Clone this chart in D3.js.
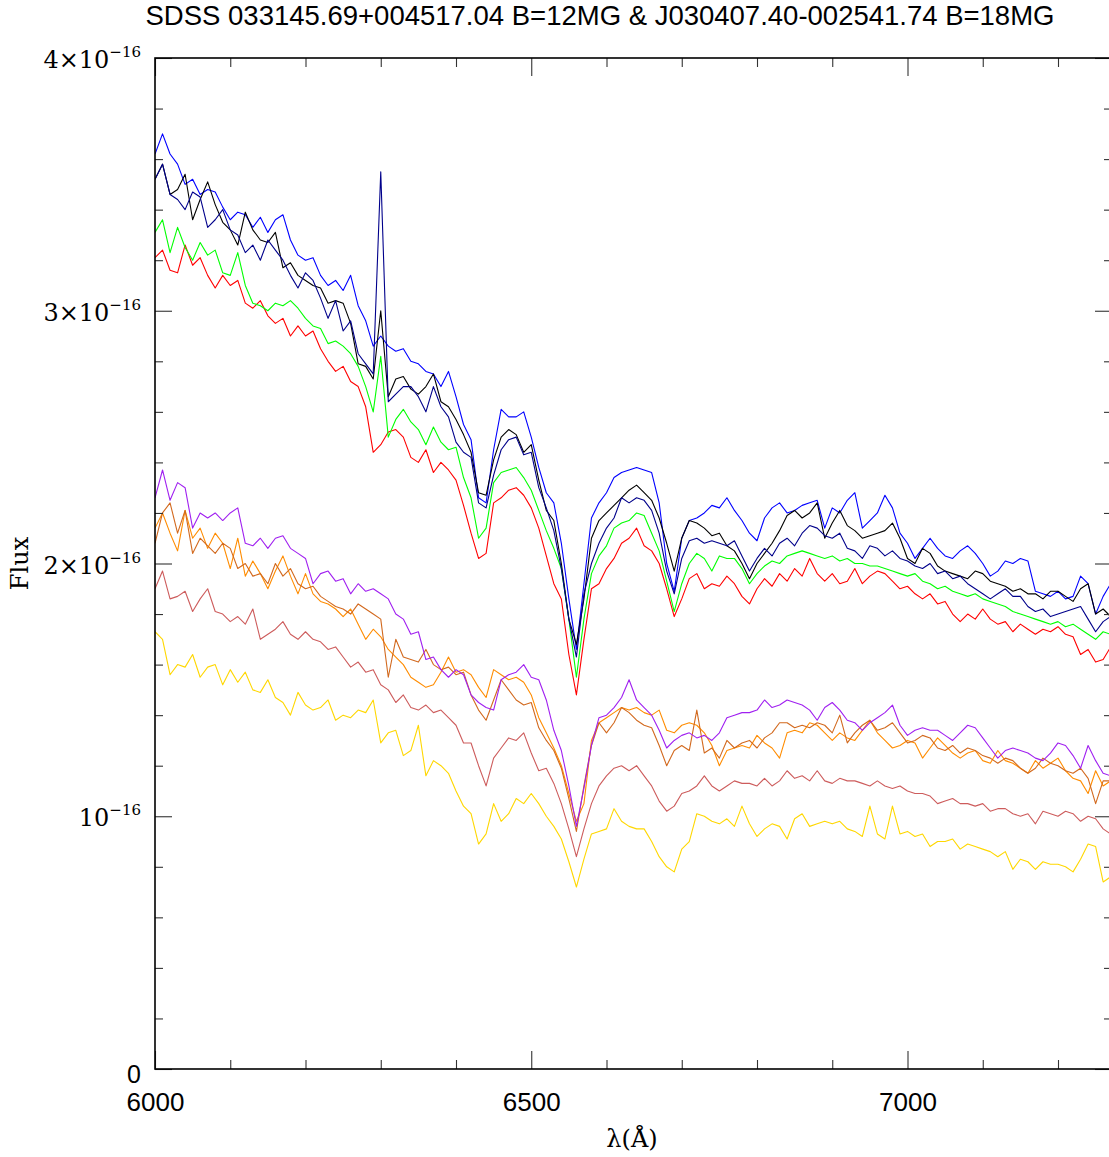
<!DOCTYPE html>
<html>
<head>
<meta charset="utf-8">
<script src="https://cdn.jsdelivr.net/npm/d3@7"></script>
<style>
  body { margin: 0; background: #fff; }
  svg { display: block; }
</style>
</head>
<body>
<div id="chart"></div>
<script>

// wavelength grid, 10 A steps from 6000 to 7270
var wavelengths = d3.range(6000, 7271, 10);

// fluxes in units of 1e-16
var fluxRed = [
  3.21,3.24,3.16,3.15,3.26,3.18,3.21,3.14,3.09,3.14,
  3.10,3.12,3.03,3.01,3.04,2.98,2.95,2.97,2.90,2.94,
  2.90,2.92,2.85,2.80,2.76,2.78,2.72,2.70,2.62,2.44,
  2.47,2.52,2.53,2.50,2.42,2.40,2.45,2.36,2.40,2.37,
  2.33,2.23,2.12,2.02,2.04,2.24,2.26,2.29,2.30,2.27,
  2.22,2.14,2.03,1.92,1.86,1.64,1.48,1.70,1.90,1.92,
  1.98,2.02,2.08,2.10,2.14,2.07,2.05,2.00,1.90,1.79,
  1.86,1.94,1.96,1.90,1.92,1.91,1.95,1.92,1.87,1.84,
  1.90,1.94,1.91,1.96,1.93,1.98,1.95,2.02,1.96,1.93,
  1.96,1.92,1.93,1.98,1.92,1.95,1.97,1.96,1.93,1.90,
  1.91,1.88,1.86,1.88,1.84,1.85,1.80,1.77,1.80,1.78,
  1.82,1.78,1.76,1.77,1.73,1.76,1.74,1.72,1.74,1.73,
  1.75,1.72,1.71,1.64,1.66,1.61,1.62,1.67
];

var fluxGreen = [
  3.31,3.36,3.23,3.33,3.25,3.20,3.27,3.22,3.24,3.15,
  3.14,3.23,3.10,3.03,3.02,3.00,3.03,3.02,3.04,3.01,
  2.97,2.94,2.93,2.87,2.88,2.86,2.83,2.78,2.70,2.60,
  2.82,2.50,2.57,2.61,2.56,2.53,2.47,2.54,2.48,2.45,
  2.46,2.34,2.26,2.10,2.14,2.32,2.36,2.37,2.38,2.34,
  2.29,2.21,2.13,2.06,1.98,1.78,1.55,1.78,1.96,2.03,
  2.07,2.14,2.16,2.17,2.20,2.19,2.12,2.05,1.93,1.81,
  1.92,2.00,2.04,2.02,1.97,2.03,2.02,2.02,1.98,1.92,
  1.96,1.99,2.01,2.00,2.03,2.04,2.05,2.04,2.03,2.02,
  2.03,2.01,2.02,2.00,2.00,1.99,1.99,1.98,1.97,1.96,
  1.95,1.96,1.93,1.92,1.90,1.91,1.89,1.88,1.87,1.88,
  1.86,1.85,1.84,1.83,1.81,1.80,1.79,1.78,1.77,1.76,
  1.77,1.75,1.76,1.74,1.72,1.70,1.73,1.72
];

var fluxBlue = [
  3.62,3.70,3.62,3.58,3.50,3.52,3.46,3.48,3.47,3.41,
  3.36,3.39,3.38,3.33,3.37,3.31,3.36,3.38,3.28,3.22,
  3.20,3.21,3.14,3.10,3.12,3.08,3.14,3.02,2.96,2.86,
  2.90,2.86,2.84,2.85,2.80,2.79,2.76,2.75,2.70,2.76,
  2.66,2.55,2.49,2.26,2.24,2.45,2.61,2.58,2.58,2.60,
  2.50,2.38,2.28,2.24,2.08,1.86,1.66,1.92,2.18,2.24,
  2.28,2.34,2.36,2.37,2.38,2.37,2.36,2.24,2.00,1.89,
  2.10,2.17,2.18,2.20,2.23,2.22,2.26,2.21,2.17,2.12,
  2.09,2.18,2.22,2.24,2.20,2.21,2.23,2.24,2.25,2.14,
  2.22,2.20,2.25,2.28,2.14,2.17,2.20,2.27,2.22,2.12,
  2.08,2.02,2.06,2.10,2.06,2.03,2.02,2.05,2.07,2.04,
  2.00,1.95,1.97,2.01,2.00,2.02,2.01,1.89,1.88,1.87,
  1.89,1.86,1.87,1.95,1.92,1.80,1.87,1.92
];

var fluxBlack = [
  3.52,3.58,3.46,3.48,3.54,3.36,3.44,3.51,3.42,3.35,
  3.32,3.26,3.39,3.32,3.28,3.27,3.31,3.17,3.19,3.14,
  3.12,3.10,3.09,3.03,3.04,3.03,2.95,2.79,2.78,2.73,
  3.00,2.66,2.73,2.74,2.69,2.67,2.70,2.75,2.64,2.62,
  2.57,2.51,2.44,2.28,2.27,2.41,2.50,2.53,2.51,2.44,
  2.47,2.33,2.21,2.17,2.00,1.78,1.68,1.86,2.10,2.17,
  2.20,2.23,2.26,2.29,2.31,2.28,2.25,2.18,2.08,1.97,
  2.10,2.17,2.16,2.14,2.11,2.12,2.07,2.05,2.00,1.94,
  2.00,2.04,2.08,2.13,2.19,2.21,2.18,2.20,2.24,2.10,
  2.16,2.21,2.15,2.13,2.10,2.11,2.12,2.13,2.16,2.10,
  2.02,2.00,2.06,2.04,1.99,1.97,1.96,1.95,1.94,1.97,
  1.96,1.93,1.92,1.91,1.89,1.90,1.88,1.88,1.86,1.89,
  1.89,1.87,1.85,1.90,1.92,1.80,1.82,1.79
];

var fluxNavy = [
  3.52,3.58,3.46,3.44,3.40,3.47,3.45,3.33,3.36,3.40,
  3.32,3.30,3.23,3.26,3.20,3.28,3.24,3.20,3.14,3.09,
  3.15,3.12,3.05,2.97,3.04,2.92,2.96,2.83,2.79,2.75,
  3.55,2.64,2.67,2.70,2.70,2.66,2.60,2.70,2.62,2.58,
  2.48,2.44,2.42,2.24,2.22,2.35,2.45,2.49,2.50,2.43,
  2.44,2.30,2.22,2.13,1.98,1.78,1.63,1.88,2.00,2.08,
  2.14,2.18,2.26,2.24,2.26,2.25,2.21,2.12,1.97,1.88,
  2.02,2.09,2.10,2.08,2.09,2.08,2.07,2.09,2.03,1.97,
  2.02,2.06,2.03,2.08,2.10,2.07,2.12,2.15,2.14,2.11,
  2.10,2.12,2.06,2.05,2.02,2.07,2.06,2.03,2.05,2.02,
  2.01,1.99,1.98,2.00,1.96,1.97,1.94,1.95,1.92,1.90,
  1.88,1.86,1.88,1.90,1.87,1.87,1.83,1.81,1.82,1.79,
  1.80,1.81,1.82,1.83,1.78,1.73,1.77,1.79
];

var fluxPurple = [
  2.26,2.37,2.25,2.32,2.30,2.14,2.20,2.18,2.20,2.17,
  2.20,2.22,2.08,2.07,2.10,2.06,2.10,2.11,2.06,2.04,
  2.02,1.92,1.96,1.97,1.93,1.94,1.88,1.92,1.89,1.90,
  1.88,1.86,1.80,1.78,1.72,1.73,1.62,1.63,1.58,1.55,
  1.58,1.56,1.48,1.45,1.43,1.42,1.54,1.56,1.57,1.60,
  1.55,1.54,1.46,1.34,1.26,1.12,0.96,1.11,1.28,1.39,
  1.40,1.43,1.47,1.54,1.46,1.43,1.40,1.34,1.27,1.30,
  1.32,1.33,1.31,1.32,1.30,1.33,1.39,1.40,1.41,1.41,
  1.42,1.46,1.43,1.44,1.46,1.45,1.44,1.42,1.38,1.43,
  1.45,1.42,1.38,1.37,1.34,1.37,1.39,1.41,1.44,1.36,
  1.32,1.34,1.35,1.34,1.34,1.32,1.30,1.33,1.36,1.35,
  1.31,1.27,1.23,1.26,1.27,1.26,1.25,1.23,1.22,1.25,
  1.29,1.28,1.24,1.19,1.28,1.22,1.17,1.16
];

var fluxOrange = [
  2.14,2.20,2.12,2.05,2.21,2.10,2.14,2.06,2.12,2.08,
  1.98,2.10,1.95,2.01,1.96,1.90,1.97,2.03,1.95,1.88,
  1.96,1.88,1.85,1.84,1.82,1.79,1.82,1.76,1.70,1.74,
  1.71,1.66,1.63,1.60,1.55,1.53,1.51,1.52,1.57,1.63,
  1.57,1.58,1.56,1.51,1.47,1.58,1.56,1.54,1.55,1.53,
  1.48,1.39,1.33,1.27,1.20,1.09,0.98,1.05,1.30,1.37,
  1.39,1.41,1.43,1.42,1.43,1.41,1.40,1.42,1.34,1.33,
  1.36,1.37,1.36,1.33,1.28,1.20,1.26,1.27,1.28,1.27,
  1.32,1.29,1.27,1.23,1.33,1.34,1.33,1.37,1.36,1.33,
  1.30,1.33,1.31,1.30,1.34,1.38,1.33,1.30,1.27,1.28,
  1.30,1.29,1.23,1.27,1.31,1.28,1.25,1.23,1.25,1.26,
  1.22,1.21,1.26,1.22,1.21,1.19,1.17,1.22,1.19,1.21,
  1.23,1.18,1.15,1.14,1.09,1.18,1.12,1.14
];

var fluxChocolate = [
  2.08,2.20,2.24,2.12,2.21,2.04,2.10,2.07,2.04,2.08,
  2.06,1.98,2.00,1.95,1.96,1.92,2.00,1.95,1.98,1.92,
  1.90,1.91,1.87,1.85,1.83,1.82,1.80,1.84,1.82,1.80,
  1.78,1.55,1.70,1.63,1.62,1.61,1.66,1.60,1.58,1.59,
  1.56,1.57,1.48,1.42,1.38,1.46,1.54,1.50,1.46,1.44,
  1.45,1.35,1.30,1.26,1.19,1.07,0.94,1.12,1.28,1.37,
  1.33,1.37,1.43,1.41,1.38,1.36,1.35,1.28,1.20,1.26,
  1.28,1.26,1.42,1.25,1.27,1.23,1.30,1.27,1.29,1.30,
  1.27,1.31,1.33,1.37,1.37,1.35,1.36,1.35,1.37,1.36,
  1.33,1.40,1.29,1.33,1.36,1.38,1.34,1.35,1.37,1.33,
  1.29,1.30,1.32,1.31,1.27,1.26,1.28,1.25,1.27,1.26,
  1.24,1.23,1.21,1.23,1.22,1.19,1.17,1.19,1.23,1.21,
  1.20,1.18,1.17,1.19,1.15,1.05,1.14,1.14
];

var fluxIndianRed = [
  1.90,1.97,1.86,1.87,1.89,1.81,1.86,1.90,1.81,1.80,
  1.77,1.79,1.76,1.82,1.70,1.72,1.74,1.77,1.72,1.70,
  1.73,1.70,1.69,1.66,1.67,1.63,1.59,1.61,1.57,1.58,
  1.52,1.50,1.45,1.48,1.43,1.42,1.44,1.41,1.42,1.39,
  1.36,1.29,1.29,1.20,1.12,1.23,1.27,1.31,1.30,1.33,
  1.25,1.18,1.19,1.13,1.05,0.95,0.84,0.95,1.05,1.12,
  1.16,1.19,1.20,1.18,1.20,1.16,1.12,1.06,1.02,1.04,
  1.09,1.10,1.12,1.16,1.12,1.10,1.12,1.14,1.13,1.13,
  1.12,1.15,1.12,1.14,1.18,1.15,1.16,1.14,1.18,1.14,
  1.13,1.15,1.14,1.14,1.13,1.12,1.14,1.12,1.11,1.12,
  1.10,1.09,1.09,1.08,1.05,1.06,1.07,1.05,1.05,1.04,
  1.05,1.02,1.03,1.03,1.01,1.00,1.01,0.97,1.02,1.01,
  1.00,1.02,1.01,0.98,1.00,0.99,0.95,0.93
];

var fluxGold = [
  1.73,1.70,1.56,1.60,1.59,1.64,1.55,1.59,1.60,1.52,
  1.58,1.53,1.57,1.50,1.49,1.54,1.47,1.45,1.40,1.49,
  1.44,1.42,1.43,1.46,1.38,1.40,1.39,1.42,1.41,1.46,
  1.29,1.33,1.34,1.24,1.26,1.36,1.16,1.22,1.20,1.17,
  1.10,1.04,1.01,0.89,0.93,1.05,0.98,1.01,1.07,1.05,
  1.09,1.05,1.00,0.96,0.91,0.82,0.72,0.83,0.93,0.94,
  0.95,1.03,0.98,0.96,0.95,0.95,0.90,0.84,0.80,0.78,
  0.87,0.90,1.01,1.00,0.98,0.97,0.99,0.96,1.04,0.97,
  0.92,0.95,0.97,0.96,0.91,0.99,1.01,0.96,0.97,0.98,
  0.97,0.98,0.95,0.94,0.92,1.04,0.93,0.91,1.04,0.93,
  0.94,0.92,0.93,0.88,0.90,0.90,0.91,0.87,0.89,0.88,
  0.87,0.86,0.84,0.86,0.79,0.83,0.82,0.79,0.82,0.81,
  0.81,0.80,0.78,0.83,0.89,0.88,0.74,0.76
];

var seriesList = [
  { name: "gold", color: "#ffd700", values: fluxGold },
  { name: "indianred", color: "#cd5c5c", values: fluxIndianRed },
  { name: "darkorange", color: "#ff8c00", values: fluxOrange },
  { name: "chocolate", color: "#d2691e", values: fluxChocolate },
  { name: "purple", color: "#a020f0", values: fluxPurple },
  { name: "red", color: "#ff0000", values: fluxRed },
  { name: "green", color: "#00ff00", values: fluxGreen },
  { name: "blue", color: "#0000ff", values: fluxBlue },
  { name: "black", color: "#000000", values: fluxBlack },
  { name: "navy", color: "#00008b", values: fluxNavy }
];

var titleText = "SDSS 033145.69+004517.04 B=12MG & J030407.40-002541.74 B=18MG";
var xMajorTicks = [6000, 6500, 7000];
var xMinorTicks = [6100, 6200, 6300, 6400, 6600, 6700, 6800, 6900, 7100, 7200];
var yMajorTicks = [0, 1, 2, 3, 4];
var yMinorTicks = [0.2, 0.4, 0.6, 0.8, 1.2, 1.4, 1.6, 1.8, 2.2, 2.4, 2.6, 2.8, 3.2, 3.4, 3.6, 3.8];
var yTickLabels = [
  { v: 4, base: "4\u00d710", exp: "\u221216" },
  { v: 3, base: "3\u00d710", exp: "\u221216" },
  { v: 2, base: "2\u00d710", exp: "\u221216" },
  { v: 1, base: "10", exp: "\u221216" }
];

var svgWidth = 1109;
var svgHeight = 1157;
var plot = { left: 155, right: 1112, top: 58, bottom: 1069 };

var svg = d3.select("#chart")
  .append("svg")
  .attr("width", svgWidth)
  .attr("height", svgHeight)
  .style("background", "#fff");

// scales: 6000 -> 155px, 7000 -> 907.5px
var xScale = d3.scaleLinear()
  .domain([6000, 7000])
  .range([155, 907.5]);
xScale.domain([6000, xScale.invert(plot.right)]).range([plot.left, plot.right]);

var yScale = d3.scaleLinear()
  .domain([0, 4])
  .range([plot.bottom, plot.top]);

svg.append("clipPath")
  .attr("id", "plotClip")
  .append("rect")
  .attr("x", plot.left)
  .attr("y", plot.top)
  .attr("width", plot.right - plot.left)
  .attr("height", plot.bottom - plot.top);

// spectra
var line = d3.line()
  .x(function(d, i) { return xScale(wavelengths[i]); })
  .y(function(d) { return yScale(d); });

svg.append("g")
  .attr("clip-path", "url(#plotClip)")
  .selectAll("path")
  .data(seriesList)
  .enter()
  .append("path")
  .attr("d", function(s) { return line(s.values); })
  .attr("fill", "none")
  .attr("stroke", function(s) { return s.color; })
  .attr("stroke-width", 1.1)
  .attr("stroke-linejoin", "round");

// ticks (inward) on all four sides
function tickGroup(axis, tx, ty) {
  var g = svg.append("g")
    .attr("transform", "translate(" + tx + "," + ty + ")")
    .call(axis);
  g.select(".domain").remove();
  g.selectAll(".tick line").attr("stroke", "#333").attr("stroke-width", 1.1);
  return g;
}

tickGroup(d3.axisBottom(xScale).tickValues(xMinorTicks).tickSize(-9).tickFormat(""), 0, plot.bottom);
tickGroup(d3.axisTop(xScale).tickValues(xMinorTicks).tickSize(-9).tickFormat(""), 0, plot.top);
tickGroup(d3.axisTop(xScale).tickValues(xMajorTicks).tickSize(-18).tickFormat(""), 0, plot.top);

var xLabels = tickGroup(
  d3.axisBottom(xScale).tickValues(xMajorTicks).tickSize(-18).tickPadding(24).tickFormat(d3.format("d")),
  0, plot.bottom);
xLabels.selectAll(".tick text")
  .attr("font-family", "'Liberation Sans', Arial, sans-serif")
  .attr("font-size", "26px")
  .attr("fill", "#000");

tickGroup(d3.axisLeft(yScale).tickValues(yMinorTicks).tickSize(-8).tickFormat(""), plot.left, 0);
tickGroup(d3.axisLeft(yScale).tickValues(yMajorTicks).tickSize(-17).tickFormat(""), plot.left, 0);
tickGroup(d3.axisRight(yScale).tickValues(yMinorTicks).tickSize(-8).tickFormat(""), plot.right, 0);
tickGroup(d3.axisRight(yScale).tickValues(yMajorTicks).tickSize(-17).tickFormat(""), plot.right, 0);

// frame
svg.append("rect")
  .attr("x", plot.left)
  .attr("y", plot.top)
  .attr("width", plot.right - plot.left)
  .attr("height", plot.bottom - plot.top)
  .attr("fill", "none")
  .attr("stroke", "#000")
  .attr("stroke-width", 1.6);

// y tick labels with superscript exponent
var yLab = svg.append("g")
  .selectAll("text")
  .data(yTickLabels)
  .enter()
  .append("text")
  .attr("x", 141)
  .attr("y", function(d) { return yScale(d.v) + 10; })
  .attr("text-anchor", "end")
  .attr("font-family", "'DejaVu Serif', serif")
  .attr("font-size", "24px")
  .attr("fill", "#000");
yLab.append("tspan").text(function(d) { return d.base; });
yLab.append("tspan")
  .attr("dy", -11)
  .attr("font-size", "15px")
  .text(function(d) { return d.exp; });

svg.append("text")
  .attr("x", 141)
  .attr("y", yScale(0) + 14)
  .attr("text-anchor", "end")
  .attr("font-family", "'Liberation Sans', Arial, sans-serif")
  .attr("font-size", "25px")
  .text("0");

// axis titles
svg.append("text")
  .attr("transform", "translate(28," + ((plot.top + plot.bottom) / 2) + ") rotate(-90)")
  .attr("text-anchor", "middle")
  .attr("font-family", "'DejaVu Serif', serif")
  .attr("font-size", "24px")
  .text("Flux");

svg.append("text")
  .attr("x", 632)
  .attr("y", 1147)
  .attr("text-anchor", "middle")
  .attr("font-family", "'DejaVu Serif', serif")
  .attr("font-size", "24px")
  .text("\u03bb(\u00c5)");

// title
svg.append("text")
  .attr("x", 600)
  .attr("y", 25)
  .attr("text-anchor", "middle")
  .attr("font-family", "'Liberation Sans', Arial, sans-serif")
  .attr("font-size", "27.5px")
  .text(titleText);

</script>
</body>
</html>
